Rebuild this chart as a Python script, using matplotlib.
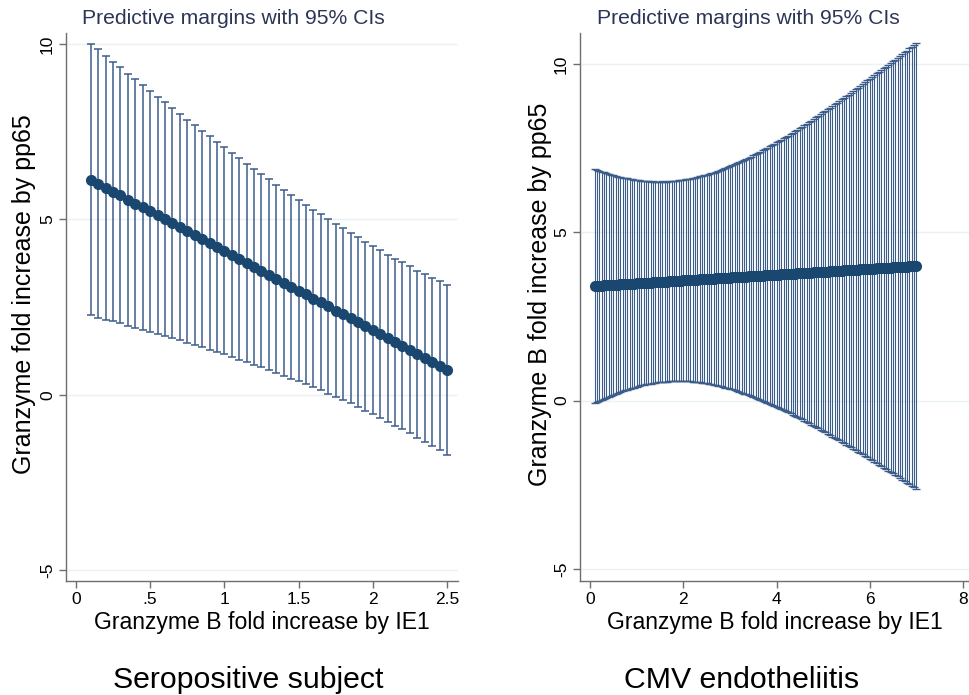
import numpy as np
import matplotlib
matplotlib.use("Agg")
import matplotlib.pyplot as plt

plt.rcParams['font.family'] = ['Liberation Sans', 'DejaVu Sans']

# left panel: seropositive subject, margins at IE1 = .1(.05)2.5
sero_x = [0.10, 0.15, 0.20, 0.25, 0.30, 0.35, 0.40, 0.45, 0.50, 0.55,
          0.60, 0.65, 0.70, 0.75, 0.80, 0.85, 0.90, 0.95, 1.00, 1.05,
          1.10, 1.15, 1.20, 1.25, 1.30, 1.35, 1.40, 1.45, 1.50, 1.55,
          1.60, 1.65, 1.70, 1.75, 1.80, 1.85, 1.90, 1.95, 2.00, 2.05,
          2.10, 2.15, 2.20, 2.25, 2.30, 2.35, 2.40, 2.45, 2.50]
sero_margin = [6.13, 6.02, 5.90, 5.79, 5.68, 5.56, 5.45, 5.34, 5.23, 5.11,
               5.00, 4.89, 4.78, 4.66, 4.55, 4.44, 4.32, 4.21, 4.10, 3.99,
               3.87, 3.76, 3.65, 3.53, 3.42, 3.31, 3.19, 3.08, 2.97, 2.86,
               2.74, 2.63, 2.52, 2.40, 2.29, 2.18, 2.07, 1.95, 1.84, 1.73,
               1.61, 1.50, 1.39, 1.28, 1.16, 1.05, 0.94, 0.82, 0.71]
sero_ci = [3.87, 3.82, 3.76, 3.70, 3.65, 3.59, 3.54, 3.49, 3.43, 3.38,
           3.33, 3.28, 3.23, 3.18, 3.13, 3.09, 3.04, 3.00, 2.95, 2.91,
           2.87, 2.83, 2.79, 2.75, 2.72, 2.68, 2.65, 2.62, 2.59, 2.56,
           2.53, 2.51, 2.49, 2.47, 2.45, 2.43, 2.42, 2.41, 2.40, 2.39,
           2.38, 2.38, 2.38, 2.38, 2.38, 2.39, 2.40, 2.41, 2.42]

# right panel: CMV endotheliitis, margins at IE1 = .1(.05)7
cmv_x = [0.10, 0.15, 0.20, 0.25, 0.30, 0.35, 0.40, 0.45, 0.50, 0.55,
         0.60, 0.65, 0.70, 0.75, 0.80, 0.85, 0.90, 0.95, 1.00, 1.05,
         1.10, 1.15, 1.20, 1.25, 1.30, 1.35, 1.40, 1.45, 1.50, 1.55,
         1.60, 1.65, 1.70, 1.75, 1.80, 1.85, 1.90, 1.95, 2.00, 2.05,
         2.10, 2.15, 2.20, 2.25, 2.30, 2.35, 2.40, 2.45, 2.50, 2.55,
         2.60, 2.65, 2.70, 2.75, 2.80, 2.85, 2.90, 2.95, 3.00, 3.05,
         3.10, 3.15, 3.20, 3.25, 3.30, 3.35, 3.40, 3.45, 3.50, 3.55,
         3.60, 3.65, 3.70, 3.75, 3.80, 3.85, 3.90, 3.95, 4.00, 4.05,
         4.10, 4.15, 4.20, 4.25, 4.30, 4.35, 4.40, 4.45, 4.50, 4.55,
         4.60, 4.65, 4.70, 4.75, 4.80, 4.85, 4.90, 4.95, 5.00, 5.05,
         5.10, 5.15, 5.20, 5.25, 5.30, 5.35, 5.40, 5.45, 5.50, 5.55,
         5.60, 5.65, 5.70, 5.75, 5.80, 5.85, 5.90, 5.95, 6.00, 6.05,
         6.10, 6.15, 6.20, 6.25, 6.30, 6.35, 6.40, 6.45, 6.50, 6.55,
         6.60, 6.65, 6.70, 6.75, 6.80, 6.85, 6.90, 6.95, 7.00]
cmv_margin = [3.40, 3.40, 3.41, 3.41, 3.42, 3.42, 3.43, 3.43, 3.43, 3.44,
              3.44, 3.45, 3.45, 3.46, 3.46, 3.47, 3.47, 3.47, 3.48, 3.48,
              3.49, 3.49, 3.50, 3.50, 3.50, 3.51, 3.51, 3.52, 3.52, 3.53,
              3.53, 3.53, 3.54, 3.54, 3.55, 3.55, 3.56, 3.56, 3.57, 3.57,
              3.57, 3.58, 3.58, 3.59, 3.59, 3.60, 3.60, 3.60, 3.61, 3.61,
              3.62, 3.62, 3.63, 3.63, 3.63, 3.64, 3.64, 3.65, 3.65, 3.66,
              3.66, 3.67, 3.67, 3.67, 3.68, 3.68, 3.69, 3.69, 3.70, 3.70,
              3.70, 3.71, 3.71, 3.72, 3.72, 3.73, 3.73, 3.73, 3.74, 3.74,
              3.75, 3.75, 3.76, 3.76, 3.77, 3.77, 3.77, 3.78, 3.78, 3.79,
              3.79, 3.80, 3.80, 3.80, 3.81, 3.81, 3.82, 3.82, 3.83, 3.83,
              3.83, 3.84, 3.84, 3.85, 3.85, 3.86, 3.86, 3.87, 3.87, 3.87,
              3.88, 3.88, 3.89, 3.89, 3.90, 3.90, 3.90, 3.91, 3.91, 3.92,
              3.92, 3.93, 3.93, 3.93, 3.94, 3.94, 3.95, 3.95, 3.96, 3.96,
              3.97, 3.97, 3.97, 3.98, 3.98, 3.99, 3.99, 4.00, 4.00]
cmv_ci = [3.47, 3.44, 3.41, 3.38, 3.36, 3.33, 3.31, 3.28, 3.26, 3.24,
          3.21, 3.19, 3.17, 3.15, 3.14, 3.12, 3.10, 3.09, 3.07, 3.06,
          3.04, 3.03, 3.02, 3.01, 3.00, 3.00, 2.99, 2.98, 2.98, 2.98,
          2.97, 2.97, 2.97, 2.97, 2.97, 2.98, 2.98, 2.98, 2.99, 3.00,
          3.00, 3.01, 3.02, 3.03, 3.04, 3.06, 3.07, 3.09, 3.10, 3.12,
          3.14, 3.15, 3.17, 3.19, 3.21, 3.24, 3.26, 3.28, 3.31, 3.33,
          3.36, 3.38, 3.41, 3.44, 3.47, 3.49, 3.52, 3.55, 3.59, 3.62,
          3.65, 3.68, 3.72, 3.75, 3.78, 3.82, 3.85, 3.89, 3.93, 3.96,
          4.00, 4.04, 4.07, 4.11, 4.15, 4.19, 4.23, 4.27, 4.31, 4.35,
          4.39, 4.43, 4.48, 4.52, 4.56, 4.60, 4.64, 4.69, 4.73, 4.77,
          4.82, 4.86, 4.91, 4.95, 5.00, 5.04, 5.09, 5.13, 5.18, 5.22,
          5.27, 5.32, 5.36, 5.41, 5.45, 5.50, 5.55, 5.60, 5.64, 5.69,
          5.74, 5.79, 5.83, 5.88, 5.93, 5.98, 6.03, 6.08, 6.12, 6.17,
          6.22, 6.27, 6.32, 6.37, 6.42, 6.47, 6.52, 6.57, 6.62]

sero_xticks = [0, 0.5, 1, 1.5, 2, 2.5]
sero_xticklabels = ['0', '.5', '1', '1.5', '2', '2.5']
cmv_xticks = [0, 2, 4, 6, 8]
cmv_xticklabels = ['0', '2', '4', '6', '8']
yticks = [-5, 0, 5, 10]
yticklabels = ['-5', '0', '5', '10']

navy = '#1a476f'
ci_col = '#3c5d8a'
axis_col = '#6e6e6e'
grid_col = '#eaf2f3'

fig = plt.figure(figsize=(9.7, 6.95), dpi=100)
fig.patch.set_facecolor('white')

ax1 = fig.add_axes([66/970, 1-581/695, (458-66)/970, (581-33)/695])
ax2 = fig.add_axes([580/970, 1-581/695, (970-580)/970, (581-33)/695])


def style_axes(ax, xticks, xlabels, ylabel, ylab_x):
    for s in ['top', 'right']:
        ax.spines[s].set_visible(False)
    for s in ['left', 'bottom']:
        ax.spines[s].set_color(axis_col)
        ax.spines[s].set_linewidth(1.0)
    ax.set_yticks(yticks)
    ax.set_yticklabels(yticklabels, rotation=90, va='center')
    ax.set_xticks(xticks)
    ax.set_xticklabels(xlabels)
    ax.tick_params(axis='both', colors=axis_col, labelcolor='black',
                   labelsize=12.5, length=5, width=1.0, direction='out')
    ax.tick_params(axis='x', pad=3)
    ax.tick_params(axis='y', pad=3)
    ax.grid(axis='y', color=grid_col, linewidth=1.0)
    ax.set_axisbelow(True)
    ax.set_xlabel('Granzyme B fold increase by IE1', fontsize=16.6)
    ax.xaxis.set_label_coords(0.5, -0.055)
    ax.set_ylabel(ylabel, fontsize=18)
    ax.yaxis.set_label_coords(ylab_x, 0.524)


# left panel
ax1.errorbar(sero_x, sero_margin, yerr=sero_ci, fmt='none', ecolor=ci_col,
             elinewidth=1.1, capsize=3.2, capthick=1.1, zorder=2)
ax1.plot(sero_x, sero_margin, color=navy, lw=2.5, marker='o', ms=7,
         zorder=3)
ax1.set_xlim(-0.067, 2.574)
ax1.set_ylim(-5.31, 10.31)
style_axes(ax1, sero_xticks, sero_xticklabels,
           'Granzyme fold increase by pp65', -0.077)

# right panel
ax2.errorbar(cmv_x, cmv_margin, yerr=cmv_ci, fmt='none', ecolor=ci_col,
             elinewidth=0.8, capsize=3, capthick=1.0, zorder=2)
ax2.plot(cmv_x, cmv_margin, color=navy, lw=3, marker='o', ms=7,
         zorder=3)
ax2.set_xlim(-0.215, 8.15)
ax2.set_ylim(-5.36, 10.92)
style_axes(ax2, cmv_xticks, cmv_xticklabels,
           'Granzyme B fold increase by pp65', -0.072)

fig.text(233/970, 1-18/695, 'Predictive margins with 95% CIs', ha='center',
         va='center', fontsize=15.2, color='#2b3656')
fig.text(748/970, 1-18/695, 'Predictive margins with 95% CIs', ha='center',
         va='center', fontsize=15.2, color='#2b3656')

fig.text(248/970, 1-680/695, 'Seropositive subject', ha='center', va='center',
         fontsize=21.8, color='black')
fig.text(742/970, 1-680/695, 'CMV endotheliitis', ha='center', va='center',
         fontsize=21.8, color='black')

fig.savefig('out.png', dpi=100, facecolor='white')
